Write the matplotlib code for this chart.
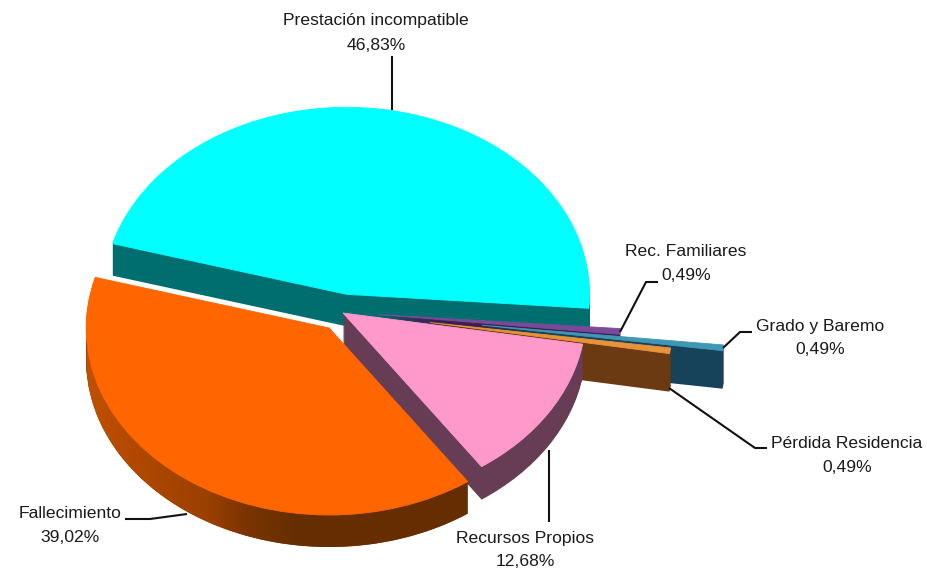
import matplotlib
matplotlib.use("Agg")
import matplotlib.pyplot as plt
import numpy as np
from matplotlib.colors import LinearSegmentedColormap
from matplotlib.patches import Polygon

# pie order, counter clockwise from the right edge of the big slice
categorias = ["Prestación incompatible", "Fallecimiento", "Recursos Propios",
              "Pérdida Residencia", "Grado y Baremo", "Rec. Familiares"]
valores = [46.83, 39.02, 12.68, 0.49, 0.49, 0.49]
etiquetas_pct = ["46,83%", "39,02%", "12,68%", "0,49%", "0,49%", "0,49%"]

separacion = [0.096, 0.105, 0.01, 0.37, 0.584, 0.153]
color_tapa = ["#00FFFF", "#FF6600", "#FF99CC", "#E8923A", "#3F97B5", "#7A4A9A"]
color_pared = ["#006E6E", "#8A3C00", "#663D55", "#6B3A12", "#17435A", "#3B2050"]
orden_z = [1, 6, 5, 4, 3, 2]
grosor = [32, 32, 33, 38, 38, 32]
ajuste_px = [1.5, 3, 0, 0, 0, 0]   # small sideways correction per slice

W, H = 927, 574
RX, RY = 243.0, 187.0      # pixels per unit on each axis
CX, CY = 341.0, 312.0      # pie centre in pixels
ANG_INI = -4.3

fig = plt.figure(figsize=(W / 100, H / 100), dpi=100, facecolor="white")
ax = fig.add_axes([0, 0, 1, 1])

# the depth is a stack of pies, one per pixel, then the top face
for d in range(max(grosor), -1, -1):
    colores = color_tapa if d == 0 else color_pared
    cunas, _ = ax.pie(valores, explode=separacion, colors=colores, startangle=ANG_INI,
                      center=(0, -d / RY), radius=1, wedgeprops={"linewidth": 0}, frame=True)
    for i, cuna in enumerate(cunas):
        cuna.set_center((cuna.center[0] + ajuste_px[i] / RX, cuna.center[1]))
        cuna.set_zorder(orden_z[i] + (0.5 if d == 0 else 0.0))
        cuna.set_visible(d <= grosor[i])
        if d == 0:
            cuna.set_edgecolor(color_tapa[i])
            cuna.set_linewidth(0.6)

ax.set_aspect("auto")

# shading along the outer wall of the orange slice
ini = ANG_INI + 360 * valores[0] / sum(valores)
fin = ini + 360 * valores[1] / sum(valores)
medio = np.radians((ini + fin) / 2)
ox = separacion[1] * np.cos(medio) + ajuste_px[1] / RX
oy = separacion[1] * np.sin(medio)
th = np.radians(np.linspace(ini, fin, 200))
arco_x = ox + np.cos(th)
arco_y = oy + np.sin(th)
borde = np.r_[np.c_[arco_x, arco_y], np.c_[arco_x, arco_y - grosor[1] / RY][::-1]]
mapa = LinearSegmentedColormap.from_list(
    "pared", [(0, "#C05000"), (0.2, "#A84500"), (0.32, "#9A4000"),
              (0.42, "#7A3400"), (0.55, "#662E00"), (1, "#662E00")])
grad = ax.imshow(np.linspace(0, 1, 256)[None, :], cmap=mapa, aspect="auto", zorder=6.2,
                 extent=(arco_x.min(), arco_x.max() + 0.01, -2, 2))
grad.set_clip_path(Polygon(borde, transform=ax.transData))
ax.set_xlim(-CX / RX, (W - CX) / RX)
ax.set_ylim(-(H - CY) / RY, CY / RY)
ax.axis("off")

# labels and leader lines, in pixels
capa = fig.add_axes([0, 0, 1, 1], facecolor="none")
capa.set_xlim(0, W)
capa.set_ylim(H, 0)
capa.axis("off")

lineas = {
    "Prestación incompatible": ([392, 392], [56, 110]),
    "Fallecimiento": ([125, 150, 187], [519, 519, 514]),
    "Recursos Propios": ([549, 549], [450, 522]),
    "Pérdida Residencia": ([669, 755, 767], [388, 448, 448]),
    "Grado y Baremo": ([723, 740, 752], [348, 332, 332]),
    "Rec. Familiares": ([620, 646, 658], [332, 282, 282]),
}
pos_texto = {
    "Prestación incompatible": (376, 21),
    "Fallecimiento": (70, 513),
    "Recursos Propios": (525, 538),
    "Pérdida Residencia": (847, 443),
    "Grado y Baremo": (820, 326),
    "Rec. Familiares": (686, 251),
}
for nombre, pct in zip(categorias, etiquetas_pct):
    xs, ys = lineas[nombre]
    capa.plot(xs, ys, color="#111111", linewidth=1.5, solid_capstyle="butt", zorder=8)
    tx, ty = pos_texto[nombre]
    capa.text(tx, ty, nombre, ha="center", va="center", fontsize=12.6,
              family="Liberation Sans", color="#1a1a1a")
    capa.text(tx, ty + 24, pct, ha="center", va="center", fontsize=12.6,
              family="Liberation Sans", color="#1a1a1a")

fig.savefig("out.png", dpi=100)
